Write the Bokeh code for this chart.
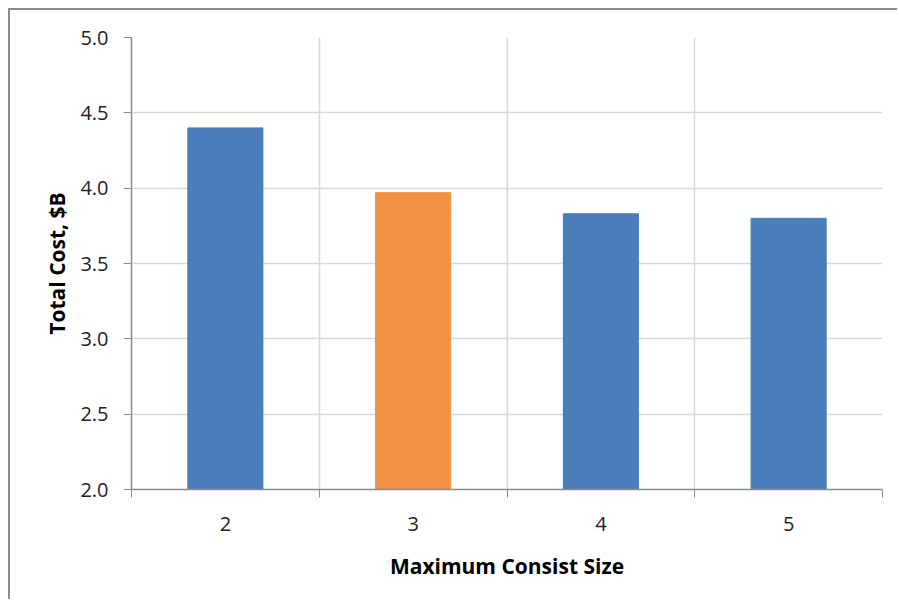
from bokeh.plotting import figure
from bokeh.models import ColumnDataSource, FixedTicker, Range1d, NumeralTickFormatter
from bokeh.embed import file_html
from bokeh.resources import INLINE

categories = ["2", "3", "4", "5"]
consist_size = [2, 3, 4, 5]
total_cost = [4.40, 3.97, 3.83, 3.80]
bar_colors = ["#4A7EBB", "#F09241", "#4A7EBB", "#4A7EBB"]
y_ticks = [2.0, 2.5, 3.0, 3.5, 4.0, 4.5, 5.0]

src = ColumnDataSource(dict(x=consist_size, top=total_cost, color=bar_colors, label=categories))

p = figure(width=889, height=591, output_backend="svg", toolbar_location=None,
           x_range=Range1d(1.5, 5.5), y_range=Range1d(2.0, 5.0),
           min_border_left=121, min_border_right=17, min_border_top=27, min_border_bottom=112,
           styles={"margin-left": "8px", "margin-top": "8px",
                   "border-top": "2px solid #8c8c8c", "border-left": "2px solid #8c8c8c"})

p.vbar(x="x", top="top", bottom=2.0, width=0.4, color="color", source=src)

p.outline_line_color = None
p.background_fill_color = "white"

# x axis
p.xaxis.ticker = FixedTicker(ticks=consist_size, minor_ticks=[1.5, 2.5, 3.5, 4.5, 5.5])
p.xaxis.major_tick_out = 0
p.xaxis.major_tick_in = 0
p.xaxis.minor_tick_out = 8
p.xaxis.minor_tick_in = 0
p.xaxis.minor_tick_line_color = "#8c8c8c"
p.xaxis.axis_line_color = "#8c8c8c"
p.xaxis.axis_line_width = 1.5
p.xaxis.major_label_text_font = "Open Sans"
p.xaxis.major_label_text_font_size = "20px"
p.xaxis.major_label_text_color = "#222222"
p.xaxis.major_label_standoff = 19
p.xaxis.axis_label = "Maximum Consist Size"
p.xaxis.axis_label_text_font = "Open Sans"
p.xaxis.axis_label_text_font_style = "bold"
p.xaxis.axis_label_text_font_size = "21px"
p.xaxis.axis_label_text_color = "black"
p.xaxis.axis_label_standoff = 18

# y axis
p.yaxis.ticker = FixedTicker(ticks=y_ticks)
p.yaxis.formatter = NumeralTickFormatter(format="0.0")
p.yaxis.major_tick_out = 8
p.yaxis.major_tick_in = 0
p.yaxis.minor_tick_out = 0
p.yaxis.minor_tick_in = 0
p.yaxis.major_tick_line_color = "#8c8c8c"
p.yaxis.axis_line_color = "#8c8c8c"
p.yaxis.axis_line_width = 1.5
p.yaxis.major_label_text_font = "Open Sans"
p.yaxis.major_label_text_font_size = "20px"
p.yaxis.major_label_text_color = "#222222"
p.yaxis.major_label_standoff = 15
p.yaxis.axis_label = "Total Cost, $B"
p.yaxis.axis_label_text_font = "Open Sans"
p.yaxis.axis_label_text_font_style = "bold"
p.yaxis.axis_label_text_font_size = "21px"
p.yaxis.axis_label_text_color = "black"
p.yaxis.axis_label_standoff = 6

# grids
p.xgrid.ticker = FixedTicker(ticks=[2.5, 3.5, 4.5, 5.5])
p.xgrid.grid_line_color = "#d9d9d9"
p.xgrid.grid_line_width = 1.5
p.ygrid.ticker = FixedTicker(ticks=y_ticks[1:])
p.ygrid.grid_line_color = "#d9d9d9"
p.ygrid.grid_line_width = 1.5

open("out.html", "w").write(file_html(p, INLINE))
